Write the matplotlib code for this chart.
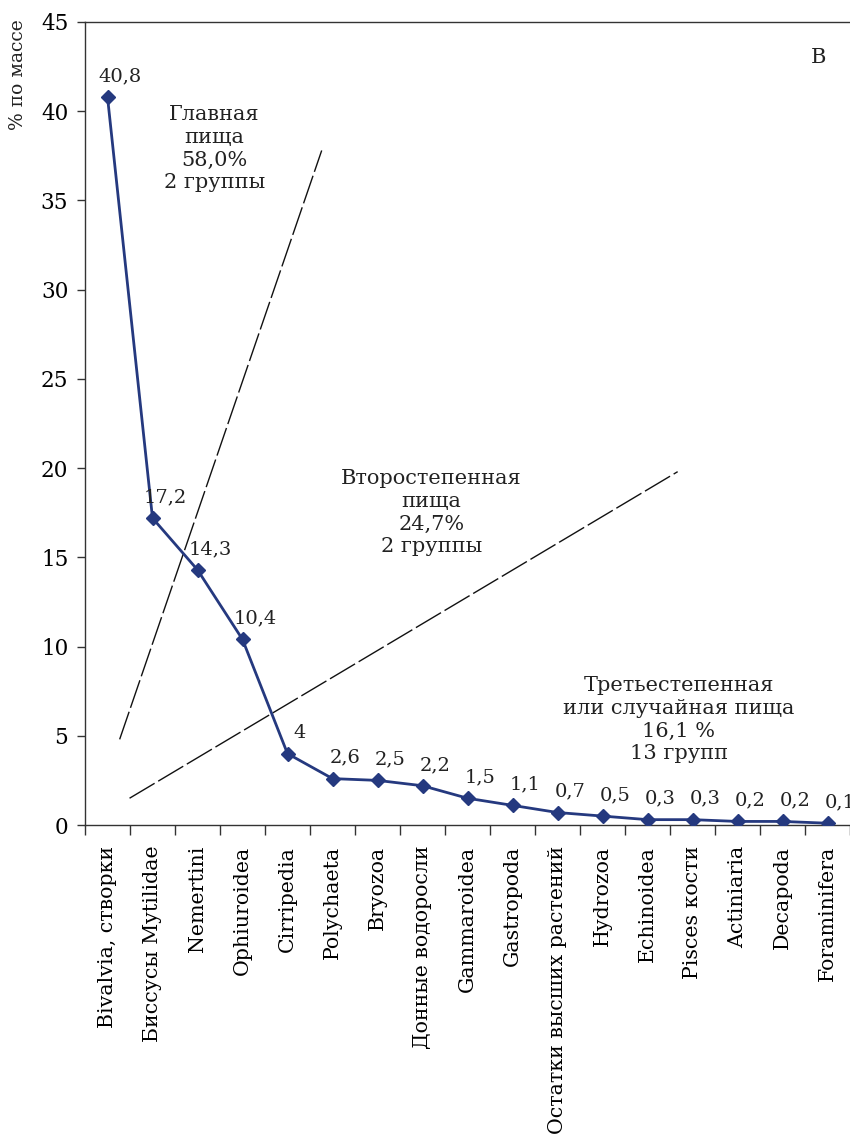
import numpy as np
import matplotlib.pyplot as plt
from matplotlib.ticker import FixedLocator, NullFormatter

plt.rcParams['font.family'] = ['DejaVu Serif']
plt.rcParams['text.color'] = '#222222'

groups = ['Bivalvia, створки', 'Биссусы Mytilidae', 'Nemertini', 'Ophiuroidea',
          'Cirripedia', 'Polychaeta', 'Bryozoa', 'Донные водоросли', 'Gammaroidea',
          'Gastropoda', 'Остатки высших растений', 'Hydrozoa', 'Echinoidea',
          'Pisces кости', 'Actiniaria', 'Decapoda', 'Foraminifera']
mass_pct = [40.8, 17.2, 14.3, 10.4, 4, 2.6, 2.5, 2.2, 1.5, 1.1, 0.7, 0.5, 0.3, 0.3, 0.2, 0.2, 0.1]

# boundaries between food classes (data coords)
border_main = ([0.27, 4.76], [4.8, 37.8])
border_second = ([0.49, 12.67], [1.5, 19.8])

main_text = 'Главная\nпища\n58,0%\n2 группы'
second_text = 'Второстепенная\nпища\n24,7%\n2 группы'
third_text = 'Третьестепенная\nили случайная пища\n16,1 %\n13 групп'

fig = plt.figure(figsize=(8.5, 11.47), dpi=100)
ax = fig.add_axes([0.1, 1 - 825 / 1147, 0.9, (825 - 22) / 1147])

x = np.arange(len(groups))
ax.plot(x, mass_pct, color='#25397f', lw=2, marker='D', ms=7, zorder=3)

for xi, v in zip(x, mass_pct):
    lab = f'{v:g}'.replace('.', ',')
    ax.annotate(lab, (xi, v), xytext=(9, 15), textcoords='offset points',
                ha='center', va='center', fontsize=14)

for bx, by in (border_main, border_second):
    ax.plot(bx, by, color='#111111', lw=1, linestyle=(0, (21, 3)), zorder=2)

txt_kw = dict(ha='center', va='center', fontsize=15, linespacing=1.25)
ax.text(2.37, 37.9, main_text, **txt_kw)
ax.text(7.2, 17.5, second_text, **txt_kw)
ax.text(12.7, 5.9, third_text, **txt_kw)
ax.text(15.8, 43.0, 'В', ha='center', va='center', fontsize=15)

ax.set_xlim(-0.5, len(groups) - 0.5)
ax.set_ylim(0, 45)
ax.set_yticks(np.arange(0, 46, 5))
ax.set_xticks(x)
ax.set_xticklabels(groups, rotation=90, fontsize=14.8)
ax.xaxis.set_minor_locator(FixedLocator(np.arange(-0.5, len(groups), 1)))
ax.xaxis.set_minor_formatter(NullFormatter())
ax.tick_params(axis='x', which='major', length=0, pad=15)
ax.tick_params(axis='x', which='minor', length=7, width=1, color='#333333')
ax.tick_params(axis='y', length=6, width=1, color='#333333', labelsize=15.5, pad=6)

for s in ('left', 'bottom', 'top'):
    ax.spines[s].set_color('#333333')
    ax.spines[s].set_linewidth(1)
ax.spines['right'].set_visible(False)

fig.text(0.021, 0.935, '% по массе', rotation=90, ha='center', va='center', fontsize=13.5)

fig.savefig('out.png', dpi=100)
